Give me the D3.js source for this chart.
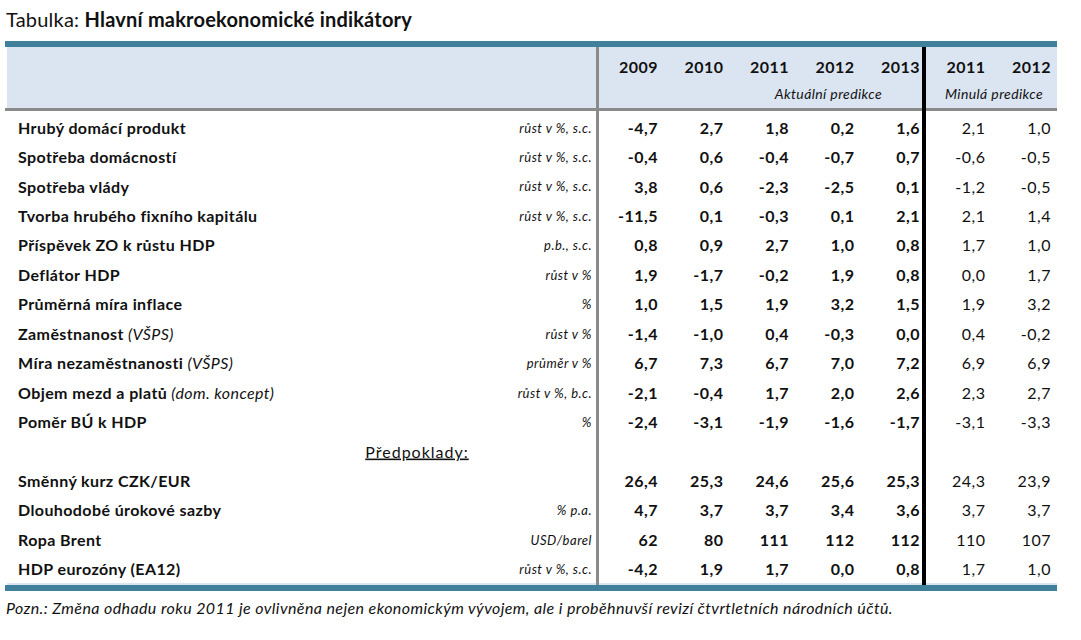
<!DOCTYPE html>
<html><head><meta charset="utf-8">
<script src="https://cdn.jsdelivr.net/npm/d3@7"></script>
<style>body{margin:0;background:#fff}svg{display:block}</style>
</head><body>
<svg id="c" width="1081" height="640"></svg>
<script>
// ---- data ----
const years = ["2009","2010","2011","2012","2013","2011","2012"];
const groupLabels = ["Aktuální predikce","Minulá predikce"];
const labels = ["Hrubý domácí produkt","Spotřeba domácností","Spotřeba vlády","Tvorba hrubého fixního kapitálu","Příspěvek ZO k růstu HDP","Deflátor HDP","Průměrná míra inflace","Zaměstnanost","Míra nezaměstnanosti","Objem mezd a platů","Poměr BÚ k HDP"];
const labelNotes = ["","","","","","","","(VŠPS)","(VŠPS)","(dom. koncept)",""];
const units = ["růst v %, s.c.","růst v %, s.c.","růst v %, s.c.","růst v %, s.c.","p.b., s.c.","růst v %","%","růst v %","průměr v %","růst v %, b.c.","%"];
const v2009 = [-4.7,-0.4,3.8,-11.5,0.8,1.9,1.0,-1.4,6.7,-2.1,-2.4];
const v2010 = [2.7,0.6,0.6,0.1,0.9,-1.7,1.5,-1.0,7.3,-0.4,-3.1];
const v2011 = [1.8,-0.4,-2.3,-0.3,2.7,-0.2,1.9,0.4,6.7,1.7,-1.9];
const v2012 = [0.2,-0.7,-2.5,0.1,1.0,1.9,3.2,-0.3,7.0,2.0,-1.6];
const v2013 = [1.6,0.7,0.1,2.1,0.8,0.8,1.5,0.0,7.2,2.6,-1.7];
const prev2011 = [2.1,-0.6,-1.2,2.1,1.7,0.0,1.9,0.4,6.9,2.3,-3.1];
const prev2012 = [1.0,-0.5,-0.5,1.4,1.0,1.7,3.2,-0.2,6.9,2.7,-3.3];

const assumptionsTitle = "Předpoklady:";
const aLabels = ["Směnný kurz CZK/EUR","Dlouhodobé úrokové sazby","Ropa Brent","HDP eurozóny (EA12)"];
const aUnits = ["","% p.a.","USD/barel","růst v %, s.c."];
const a2009 = [26.4,4.7,62,-4.2];
const a2010 = [25.3,3.7,80,1.9];
const a2011 = [24.6,3.7,111,1.7];
const a2012 = [25.6,3.4,112,0.0];
const a2013 = [25.3,3.6,112,0.8];
const aPrev2011 = [24.3,3.7,110,1.7];
const aPrev2012 = [23.9,3.7,107,1.0];
const aDecimals = [1,1,0,1];

const titlePrefix = "Tabulka: ";
const titleMain = "Hlavní makroekonomické indikátory";
const note = "Pozn.: Změna odhadu roku 2011 je ovlivněna nejen ekonomickým vývojem, ale i proběhnuvší revizí čtvrtletních národních účtů.";

// ---- build rows ----
const rows = [];
labels.forEach((l,i)=>rows.push({type:"data",label:l,note:labelNotes[i],unit:units[i],dec:1,
  vals:[v2009[i],v2010[i],v2011[i],v2012[i],v2013[i],prev2011[i],prev2012[i]]}));
rows.push({type:"sep",label:assumptionsTitle});
aLabels.forEach((l,i)=>rows.push({type:"data",label:l,note:"",unit:aUnits[i],dec:aDecimals[i],
  vals:[a2009[i],a2010[i],a2011[i],a2012[i],a2013[i],aPrev2011[i],aPrev2012[i]]}));

const loc = d3.formatLocale({decimal:",",thousands:" ",grouping:[3],currency:["",""],minus:"-"});
const fmt1 = loc.format(".1f"), fmt0 = loc.format(".0f");

// ---- layout ----
const svg = d3.select("#c");
const FONT = "Lato, 'Open Sans', sans-serif";
const blue = "#41809a", light = "#dbe5f1";
const L = 5, R = 1057;
const headTop = 47, headBot = 108, bodyBot = 585;

const x = d3.scaleLinear().domain([0,6]).range([658,1051]);   // right edges of value columns
const y = d3.scaleLinear().domain([0,rows.length-1]).range([128,128+29.45*(rows.length-1)]);

// title
const t = svg.append("text").attr("x",6).attr("y",27).attr("font-family",FONT).attr("font-size",20)
  .attr("letter-spacing",0.2).attr("fill","#111");
t.append("tspan").text(titlePrefix);
t.append("tspan").attr("font-weight","bold").text(titleMain);

// header band
svg.append("rect").attr("x",7).attr("y",headTop).attr("width",R-7).attr("height",headBot-headTop).attr("fill",light);
svg.append("rect").attr("x",L).attr("y",41).attr("width",R-L).attr("height",6).attr("fill",blue);
svg.append("rect").attr("x",L).attr("y",headBot).attr("width",R-L).attr("height",3).attr("fill","#8a8a8a");
// bottom
svg.append("rect").attr("x",7).attr("y",bodyBot-2).attr("width",R-7).attr("height",2).attr("fill",light);
svg.append("rect").attr("x",L).attr("y",bodyBot).attr("width",R-L).attr("height",6).attr("fill",blue);
// vertical lines
svg.append("rect").attr("x",596).attr("y",headTop).attr("width",3).attr("height",bodyBot-headTop).attr("fill","#8a8a8a");
svg.append("rect").attr("x",922).attr("y",headTop).attr("width",4).attr("height",bodyBot-headTop).attr("fill","#000");

// header years
svg.append("g").selectAll("text").data(years).join("text")
  .attr("x",(d,i)=>x(i)).attr("y",73).attr("text-anchor","end")
  .attr("font-family",FONT).attr("font-size",16).attr("letter-spacing",0.5).attr("font-weight","bold").attr("fill","#111").text(d=>d);
svg.append("text").attr("x",882).attr("y",99).attr("text-anchor","end").attr("font-family",FONT)
  .attr("font-size",14).attr("letter-spacing",0.4).attr("font-style","italic").attr("fill","#111").text(groupLabels[0]);
svg.append("text").attr("x",1043).attr("y",99).attr("text-anchor","end").attr("font-family",FONT)
  .attr("font-size",14).attr("letter-spacing",0.4).attr("font-style","italic").attr("fill","#111").text(groupLabels[1]);

// rows
const g = svg.append("g").attr("font-family",FONT).attr("fill","#111");
rows.forEach((r,i)=>{
  const cy = y(i);
  if(r.type==="sep"){
    g.append("text").attr("x",417).attr("y",cy).attr("dy","0.35em").attr("text-anchor","middle")
      .attr("font-size",16).attr("letter-spacing",1).attr("text-decoration","underline").text(r.label);
    return;
  }
  const lt = g.append("text").attr("x",18).attr("y",cy).attr("dy","0.35em").attr("font-size",16).attr("letter-spacing",0.4);
  lt.append("tspan").attr("font-weight","bold").text(r.label);
  if(r.note) lt.append("tspan").attr("font-style","italic").text(" "+r.note);
  if(r.unit) g.append("text").attr("x",592).attr("y",cy).attr("dy","0.35em").attr("text-anchor","end")
      .attr("font-size",13).attr("letter-spacing",0.5).attr("font-style","italic").text(r.unit);
  const f = r.dec===0?fmt0:fmt1;
  r.vals.forEach((v,j)=>{
    g.append("text").attr("x",x(j)).attr("y",cy).attr("dy","0.35em").attr("text-anchor","end")
      .attr("font-size",16).attr("letter-spacing",0.5).attr("font-weight",j<5?"bold":"normal").text(f(v));
  });
});

// note
svg.append("text").attr("x",6).attr("y",614).attr("font-family",FONT).attr("font-size",16).attr("letter-spacing",0.4)
  .attr("font-style","italic").attr("fill","#111").text(note);
</script>
</body></html>
